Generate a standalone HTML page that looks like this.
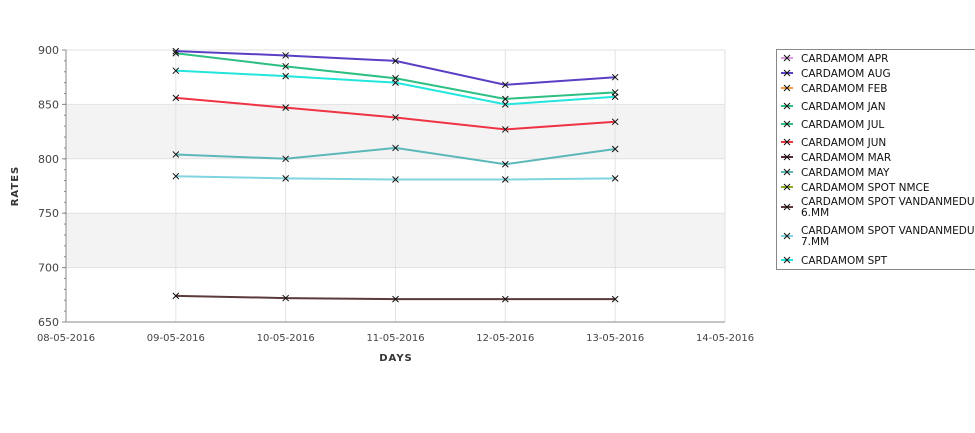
<!DOCTYPE html>
<html><head><meta charset="utf-8">
<style>
body{margin:0;background:#fff;width:975px;height:429px;overflow:hidden;font-family:"DejaVu Sans","Liberation Sans",sans-serif;}
svg text{font-family:"DejaVu Sans","Liberation Sans",sans-serif;}
</style></head>
<body>
<svg id="chart" width="975" height="429" xmlns="http://www.w3.org/2000/svg"></svg>
<script>
const categories = ["09-05-2016","10-05-2016","11-05-2016","12-05-2016","13-05-2016"];
const xTicks = ["08-05-2016","09-05-2016","10-05-2016","11-05-2016","12-05-2016","13-05-2016","14-05-2016"];
const yTicks = [650,700,750,800,850,900];
const vand6 = [674,672,671,671,671];
const vand7 = [784,782,781,781,782];
const mayVals = [804,800,810,795,809];
const junVals = [856,847,838,827,834];
const sptVals = [881,876,870,850,857];
const julVals = [897,885,874,855,861];
const augVals = [899,895,890,868,875];
const seriesNames = ["CARDAMOM SPOT VANDANMEDU 6.MM","CARDAMOM SPOT VANDANMEDU 7.MM","CARDAMOM MAY","CARDAMOM JUN","CARDAMOM SPT","CARDAMOM JUL","CARDAMOM AUG"];
const seriesVals = [vand6,vand7,mayVals,junVals,sptVals,julVals,augVals];
const seriesColors = ["#5a3a3a","#80d4e0","#5cb8b8","#ee3344","#22e6dd","#2ec082","#5a3fc4"];
const legendNames = ["CARDAMOM APR","CARDAMOM AUG","CARDAMOM FEB","CARDAMOM JAN","CARDAMOM JUL","CARDAMOM JUN","CARDAMOM MAR","CARDAMOM MAY","CARDAMOM SPOT NMCE","CARDAMOM SPOT VANDANMEDU|6.MM","CARDAMOM SPOT VANDANMEDU|7.MM","CARDAMOM SPT"];
const legendColors = ["#dd99dd","#5a3fc4","#f0a040","#2ec082","#2ec082","#ee3344","#5a2a3a","#5cb8b8","#88aa22","#5a3a3a","#80d4e0","#22e6dd"];
const legendRowY = [58,73,88,106,124,142,157,172,187,201,230,260];

const NS="http://www.w3.org/2000/svg";
const svg=document.getElementById('chart');
const L=66,R=725,T=50,B=322;
function x(i){return L+(i+1)*(R-L)/6;}
function y(v){return B-(v-650)*(B-T)/250;}
function mk(tag,attrs,parent){const e=document.createElementNS(NS,tag);for(const k in attrs)e.setAttribute(k,attrs[k]);(parent||svg).appendChild(e);return e;}

for(const lo of [700,800]){
  const b=mk('rect',{x:L,y:y(lo+50),width:R-L,height:y(lo)-y(lo+50),fill:'#f3f3f3'});
  
  
}
yTicks.forEach(v=>{
  const g=mk('line',{x1:L,x2:R,y1:y(v),y2:y(v),stroke:'#e2e2e2'});
  
  
  const t=mk('text',{x:L-7,y:y(v)+4,'text-anchor':'end','font-size':11,fill:'#444'});
  t.textContent=v;
  
  
  mk('line',{x1:L-4,x2:L,y1:y(v),y2:y(v),stroke:'#888'});
});
for(let v=650;v<=900;v+=10){mk('line',{x1:L-2,x2:L,y1:y(v),y2:y(v),stroke:'#888'});}
xTicks.forEach((lab,i)=>{
  const xx=L+i*(R-L)/6;
  const g=mk('line',{x1:xx,x2:xx,y1:T,y2:B,stroke:'#e2e2e2'});
  
  
  const t=mk('text',{x:xx,y:341,'text-anchor':'middle','font-size':10,fill:'#444'});
  t.textContent=lab;
  
  
});
mk('line',{x1:L,x2:L,y1:T,y2:B,stroke:'#888'});
mk('line',{x1:L,x2:R,y1:B,y2:B,stroke:'#888'});
const xt=mk('text',{x:396,y:361,'text-anchor':'middle','font-size':10,'font-weight':'bold',fill:'#333','letter-spacing':'1'});
xt.textContent='DAYS';


const yt=mk('text',{x:18,y:186,'text-anchor':'middle','font-size':10,'font-weight':'bold',fill:'#333','letter-spacing':'1',transform:'rotate(-90 18 186)'});
yt.textContent='RATES';



seriesVals.forEach((vals,si)=>{
  const pts=vals.map((v,i)=>x(i)+','+y(v)).join(' ');
  const p=mk('polyline',{points:pts,fill:'none',stroke:seriesColors[si],'stroke-width':2});
  
  
  vals.forEach((v,i)=>{
    const m=mk('path',{d:`M${x(i)-3},${y(v)-3}L${x(i)+3},${y(v)+3}M${x(i)-3},${y(v)+3}L${x(i)+3},${y(v)-3}`,stroke:'#111','stroke-width':1});
    
    
  });
});

const lg=mk('g',{});


mk('rect',{x:776.5,y:49.5,width:205,height:220,fill:'#fff',stroke:'#888'},lg);
legendNames.forEach((n,i)=>{
  const parts=n.split('|');
  const ly=legendRowY[i];
  const cy=parts.length>1?ly+6:ly;
  const g=mk('g',{},lg);
  
  
  mk('line',{x1:781,x2:793,y1:cy,y2:cy,stroke:legendColors[i],'stroke-width':2},g);
  mk('path',{d:`M784,${cy-3}L790,${cy+3}M784,${cy+3}L790,${cy-3}`,stroke:'#111'},g);
  parts.forEach((p,j)=>{
    const t=mk('text',{x:801,y:ly+4+j*11,'font-size':10.5,fill:'#111'},g);
    t.textContent=p;
  });
});
</script>
</body></html>
